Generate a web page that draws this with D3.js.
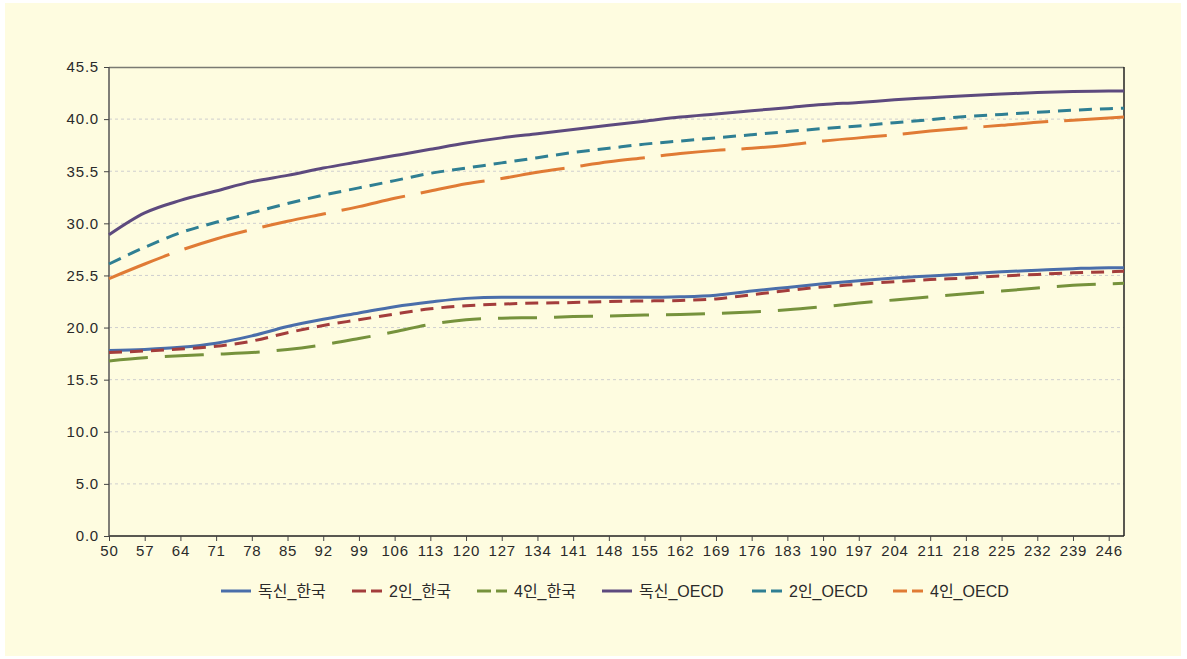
<!DOCTYPE html>
<html>
<head>
<meta charset="utf-8">
<script src="https://cdn.jsdelivr.net/npm/d3@7"></script>
<style>
  html, body { margin: 0; padding: 0; background: #ffffff; }
  svg { display: block; }
</style>
</head>
<body>
<div id="chart"></div>
<script>
// x positions (category values) where the curves were read
const xs = [50, 57, 64, 71, 78, 85, 92, 99, 106, 113, 120, 127, 134, 141, 148, 155, 162, 169, 176, 183, 190, 197, 204, 211, 218, 225, 232, 239, 246, 249]

const singleKorea = [17.8, 17.9, 18.1, 18.5, 19.2, 20.1, 20.8, 21.4, 22.0, 22.45, 22.8, 22.9, 22.9, 22.9, 22.9, 22.9, 22.95, 23.1, 23.5, 23.85, 24.2, 24.5, 24.75, 24.95, 25.15, 25.35, 25.5, 25.65, 25.75, 25.75]
const twoKorea = [17.6, 17.75, 17.95, 18.2, 18.7, 19.5, 20.2, 20.75, 21.3, 21.8, 22.1, 22.25, 22.35, 22.4, 22.5, 22.55, 22.6, 22.75, 23.15, 23.55, 23.9, 24.15, 24.4, 24.6, 24.75, 24.95, 25.1, 25.25, 25.35, 25.4]
const fourKorea = [16.8, 17.1, 17.3, 17.45, 17.6, 17.9, 18.35, 18.95, 19.6, 20.3, 20.75, 20.9, 20.95, 21.05, 21.1, 21.2, 21.25, 21.35, 21.5, 21.7, 22.0, 22.35, 22.65, 22.95, 23.25, 23.5, 23.8, 24.05, 24.2, 24.25]
const singleOecd = [28.9, 31.0, 32.2, 33.1, 34.0, 34.6, 35.3, 35.9, 36.5, 37.1, 37.7, 38.2, 38.6, 39.0, 39.4, 39.8, 40.2, 40.5, 40.8, 41.1, 41.4, 41.6, 41.85, 42.05, 42.25, 42.4, 42.55, 42.65, 42.7, 42.7]
const twoOecd = [26.1, 27.7, 29.1, 30.1, 31.0, 31.9, 32.7, 33.4, 34.1, 34.8, 35.3, 35.8, 36.3, 36.8, 37.2, 37.6, 37.9, 38.2, 38.5, 38.8, 39.1, 39.35, 39.65, 39.95, 40.25, 40.45, 40.65, 40.85, 41.0, 41.05]
const fourOecd = [24.7, 26.1, 27.4, 28.5, 29.4, 30.2, 30.9, 31.6, 32.4, 33.1, 33.8, 34.3, 34.9, 35.4, 35.9, 36.3, 36.7, 37.0, 37.2, 37.5, 37.9, 38.2, 38.5, 38.85, 39.15, 39.4, 39.7, 39.9, 40.1, 40.2]

const seriesNames = ["독신_한국", "2인_한국", "4인_한국", "독신_OECD", "2인_OECD", "4인_OECD"]
const seriesValues = [singleKorea, twoKorea, fourKorea, singleOecd, twoOecd, fourOecd]

const xTicks = d3.range(50, 247, 7)
const yTicks = [0, 5, 10, 15, 20, 25, 30, 35, 40, 45]
const yTickLabels = ["0.0", "5.0", "10.0", "15.5", "20.0", "25.5", "30.0", "35.5", "40.0", "45.5"]

// styling, kept apart from the data
const colors = ["#4a6eaa", "#a33d3c", "#76923c", "#5d4a7e", "#2f7f93", "#e07b35"]
const dashes = [null, "13,8", "39,17", null, "13,8", "65,16"]
const legendX = [221, 352, 477, 602, 752, 893]

const width = 1187
const height = 659
const margin = { top: 67, right: 63, bottom: 123, left: 109 }
const innerW = width - margin.left - margin.right
const innerH = height - margin.top - margin.bottom
const latin = "'Liberation Sans', Arial, 'Noto Sans CJK KR', sans-serif"

const svg = d3.select("#chart").append("svg")
  .attr("width", width).attr("height", height)

svg.append("rect").attr("x", 5).attr("y", 3)
  .attr("width", 1176).attr("height", 653)
  .attr("fill", "#fefce0")

const g = svg.append("g").attr("transform", `translate(${margin.left},${margin.top})`)

const x = d3.scaleLinear().domain([50, 249]).range([0, innerW])
const y = d3.scaleLinear().domain([0, 45]).range([innerH, 0])

// gridlines
g.append("g").selectAll("line")
  .data(yTicks.filter(v => v > 0 && v < 45))
  .join("line")
  .attr("x1", 0).attr("x2", innerW)
  .attr("y1", d => y(d)).attr("y2", d => y(d))
  .attr("stroke", "#cfcfcf").attr("stroke-width", 1)
  .attr("stroke-dasharray", "3,3")

// frame: top and right edges
g.append("line").attr("x1", 0).attr("x2", innerW).attr("y1", 0.5).attr("y2", 0.5)
  .attr("stroke", "#7a7a72").attr("stroke-width", 1.5)
g.append("line").attr("x1", innerW).attr("x2", innerW).attr("y1", 0).attr("y2", innerH)
  .attr("stroke", "#222").attr("stroke-width", 1.5)

// axes
g.append("g").attr("transform", `translate(0,${innerH})`)
  .call(d3.axisBottom(x).tickValues(xTicks).tickSize(5).tickPadding(4).tickFormat(d3.format("d")))
  .call(a => a.select(".domain").attr("stroke", "#222").attr("stroke-width", 1.5)
    .attr("d", `M0,0H${innerW}`))
  .call(a => a.selectAll(".tick line").attr("stroke", "#444"))
  .call(a => a.selectAll(".tick text").attr("font-family", latin).attr("font-size", 15)
    .attr("letter-spacing", 0.8).attr("fill", "#2a2a2a"))

g.append("g")
  .call(d3.axisLeft(y).tickValues(yTicks).tickSize(5).tickPadding(5)
    .tickFormat((d, i) => yTickLabels[i]))
  .call(a => a.select(".domain").attr("stroke", "#555").attr("stroke-width", 1.5)
    .attr("d", `M0,0V${innerH}`))
  .call(a => a.selectAll(".tick line").attr("stroke", "#444"))
  .call(a => a.selectAll(".tick text").attr("font-family", latin).attr("font-size", 15)
    .attr("letter-spacing", 0.8).attr("fill", "#2a2a2a"))

// lines
const line = d3.line()
  .x((d, i) => x(xs[i]))
  .y(d => y(d))
  .curve(d3.curveMonotoneX)

g.append("g").selectAll("path")
  .data(seriesValues)
  .join("path")
  .attr("d", line)
  .attr("fill", "none")
  .attr("stroke", (d, i) => colors[i])
  .attr("stroke-width", 3)
  .attr("stroke-dasharray", (d, i) => dashes[i])

// legend
const legend = svg.append("g").attr("transform", "translate(0,591)")
const item = legend.selectAll("g").data(seriesNames).join("g")
  .attr("transform", (d, i) => `translate(${legendX[i]},0)`)
item.append("line")
  .attr("x1", 0).attr("x2", 30).attr("y1", 0).attr("y2", 0)
  .attr("stroke", (d, i) => colors[i]).attr("stroke-width", 3)
  .attr("stroke-dasharray", (d, i) => dashes[i] ? "14,5" : null)
item.append("text")
  .attr("x", 37).attr("y", 0).attr("dy", "0.35em")
  .attr("font-family", latin).attr("font-size", 16).attr("fill", "#2a2a2a")
  .text(d => d)
</script>
</body>
</html>
